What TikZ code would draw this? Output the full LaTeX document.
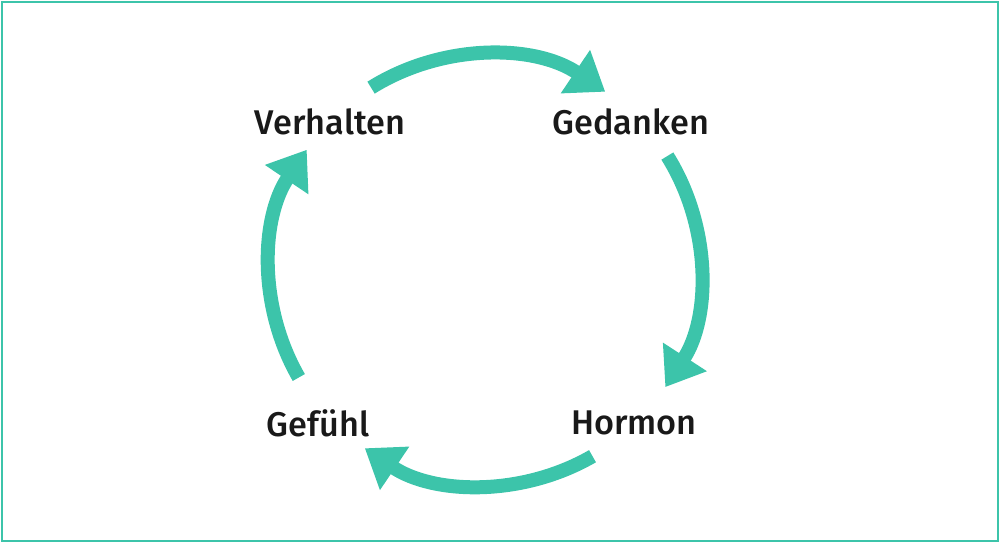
\documentclass[tikz,border=0pt]{standalone}
\usepackage{fontspec}
\setmainfont{Fira Sans}[UprightFont=* Medium]
\usetikzlibrary{arrows.meta}
\definecolor{teal1}{HTML}{3CC4AA}
\begin{document}
\begin{tikzpicture}[x=0.02cm,y=-0.02cm,
  cyc/.style={draw=teal1,line width=14*0.02cm,-{Triangle[width=50*0.02cm,length=36*0.02cm]}},
  lbl/.style={font=\fontsize{19.5pt}{24pt}\selectfont,text=black!90}]
\useasboundingbox (0,0) rectangle (1000,543);
\draw[teal1,line width=1.2pt] (2,2) rectangle (998,541);
\node[lbl] (verh) at (330,122) {Verhalten};
\node[lbl] (ged) at (631,122) {Gedanken};
\node[lbl] (hor) at (634,423) {Hormon};
\node[lbl] (gef) at (318,423) {Gefühl};
\coordinate (c) at (485,270);
\draw[cyc] ([shift={(-122:215)}]c) arc[start angle=-122,end angle=-56,radius=215];
\draw[cyc] ([shift={(-32:215)}]c) arc[start angle=-32,end angle=33,radius=215];
\draw[cyc] ([shift={(60:215)}]c) arc[start angle=60,end angle=124,radius=215];
\draw[cyc] ([shift={(-210:215)}]c) arc[start angle=-210,end angle=-146,radius=215];
\end{tikzpicture}
\end{document}
